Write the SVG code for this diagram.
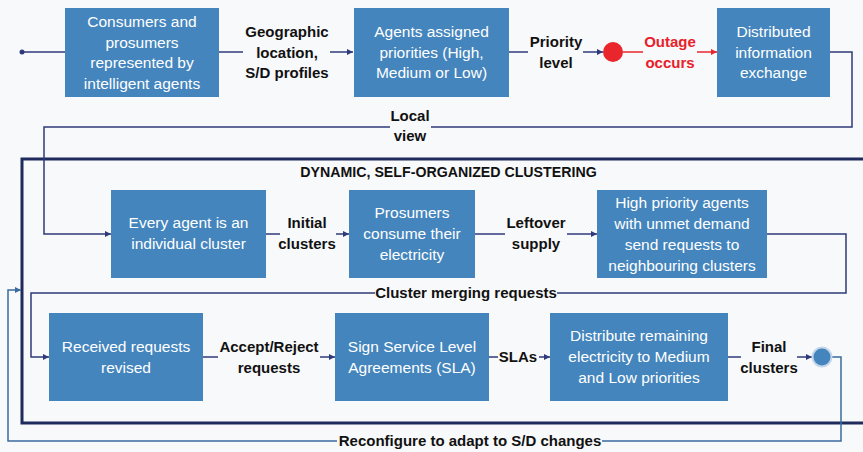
<svg xmlns="http://www.w3.org/2000/svg" width="863" height="452" viewBox="0 0 863 452">
<style>
.box{fill:#4485bd;}
.bt{font-family:"Liberation Sans",Arial,sans-serif;font-size:15.5px;fill:#ffffff;text-anchor:middle;}
.lb{font-family:"Liberation Sans",Arial,sans-serif;font-size:15px;font-weight:bold;fill:#111111;text-anchor:middle;}
.red{fill:#e8202a;}
.ln{fill:none;stroke:#2f3a7a;stroke-width:1.5;}
.rl{fill:none;stroke:#e8262b;stroke-width:1.5;}
.rc{fill:none;stroke:#3b6a9e;stroke-width:1.5;}
</style>
<defs>
<marker id="a" viewBox="0 0 8 8" refX="8" refY="4" markerWidth="6" markerHeight="6" markerUnits="userSpaceOnUse" orient="auto"><path d="M0,0 L8,4 L0,8 z" fill="#2f3a7a"/></marker>
<marker id="ar" viewBox="0 0 8 8" refX="8" refY="4" markerWidth="6" markerHeight="6" markerUnits="userSpaceOnUse" orient="auto"><path d="M0,0 L8,4 L0,8 z" fill="#e8262b"/></marker>
<marker id="ab" viewBox="0 0 8 8" refX="8" refY="4" markerWidth="6" markerHeight="6" markerUnits="userSpaceOnUse" orient="auto"><path d="M0,0 L8,4 L0,8 z" fill="#3b6a9e"/></marker>
</defs>
<rect x="0" y="0" width="863" height="452" fill="#f8f9fb"/>

<g id="cluster-frame">
<rect x="22" y="159" width="850" height="264" fill="none" stroke="#1f2b5c" stroke-width="3"/>
<text class="lb" x="448.5" y="177" style="font-size:14.2px">DYNAMIC, SELF-ORGANIZED CLUSTERING</text>
</g>

<g id="connectors">
<circle cx="22" cy="52" r="2.5" fill="#2f3a7a"/>
<path class="ln" d="M22,52 H65"/>
<path class="ln" d="M219,52 H243"/>
<path class="ln" d="M330,52 H353" marker-end="url(#a)"/>
<path class="ln" d="M509,52 H528"/>
<path class="ln" d="M583,52 H603" marker-end="url(#a)"/>
<path class="rl" d="M623,52 H643"/>
<path class="rl" d="M697,52 H717" marker-end="url(#ar)"/>
<path class="ln" d="M830,52 H852 V127 H431"/>
<path class="ln" d="M390,127 H44 V234 H111" marker-end="url(#a)"/>
<path class="ln" d="M266,234 H280"/>
<path class="ln" d="M336,234 H349" marker-end="url(#a)"/>
<path class="ln" d="M475,234 H505"/>
<path class="ln" d="M567,234 H597" marker-end="url(#a)"/>
<path class="ln" d="M767,234 H846 V293 H557"/>
<path class="ln" d="M375,293 H31 V357 H49" marker-end="url(#a)"/>
<path class="ln" d="M203,357 H218"/>
<path class="ln" d="M320,357 H335" marker-end="url(#a)"/>
<path class="ln" d="M489,357 H498"/>
<path class="ln" d="M539,357 H550" marker-end="url(#a)"/>
<path class="ln" d="M728,357 H741"/>
<path class="ln" d="M797,357 H812" marker-end="url(#a)"/>
<path class="rc" d="M832,357 H841 V441 H602"/>
<path class="rc" d="M337,441 H8 V290 H21" marker-end="url(#ab)"/>
</g>

<g id="labels">
<text class="lb" x="287" y="37">Geographic</text>
<text class="lb" x="287" y="58">location,</text>
<text class="lb" x="287" y="78">S/D profiles</text>
<text class="lb" x="556" y="47">Priority</text>
<text class="lb" x="556" y="68">level</text>
<text class="lb red" x="670" y="47">Outage</text>
<text class="lb red" x="670" y="68">occurs</text>
<text class="lb" x="410" y="121">Local</text>
<text class="lb" x="410" y="141">view</text>
<text class="lb" x="307" y="228">Initial</text>
<text class="lb" x="307" y="249">clusters</text>
<text class="lb" x="536" y="228">Leftover</text>
<text class="lb" x="536" y="249">supply</text>
<text class="lb" x="466" y="298">Cluster merging requests</text>
<text class="lb" x="269" y="352">Accept/Reject</text>
<text class="lb" x="269" y="373">requests</text>
<text class="lb" x="518" y="362">SLAs</text>
<text class="lb" x="769" y="352">Final</text>
<text class="lb" x="769" y="373">clusters</text>
<text class="lb" x="470" y="446">Reconfigure to adapt to S/D changes</text>
</g>

<g id="outage">
<circle cx="613" cy="52" r="10" fill="#e8262b"/>
</g>
<g id="end">
<circle cx="822" cy="357" r="9.5" fill="#4485bd" stroke="#c5d6ea" stroke-width="2"/>
</g>

<g id="n1">
<rect class="box" x="65" y="8" width="154" height="89"/>
<text class="bt" x="142" y="27">Consumers and</text>
<text class="bt" x="142" y="47.5">prosumers</text>
<text class="bt" x="142" y="68">represented by</text>
<text class="bt" x="142" y="88.5">intelligent agents</text>
</g>
<g id="n2">
<rect class="box" x="354" y="8" width="155" height="89"/>
<text class="bt" x="431.5" y="37">Agents assigned</text>
<text class="bt" x="431.5" y="57.5">priorities (High,</text>
<text class="bt" x="431.5" y="78">Medium or Low)</text>
</g>
<g id="n3">
<rect class="box" x="717" y="8" width="113" height="89"/>
<text class="bt" x="773.5" y="37">Distributed</text>
<text class="bt" x="773.5" y="57.5">information</text>
<text class="bt" x="773.5" y="78">exchange</text>
</g>
<g id="n4">
<rect class="box" x="111" y="190" width="155" height="88"/>
<text class="bt" x="188.5" y="228">Every agent is an</text>
<text class="bt" x="188.5" y="249">individual cluster</text>
</g>
<g id="n5">
<rect class="box" x="349" y="190" width="126" height="88"/>
<text class="bt" x="412" y="218">Prosumers</text>
<text class="bt" x="412" y="239">consume their</text>
<text class="bt" x="412" y="260">electricity</text>
</g>
<g id="n6">
<rect class="box" x="597" y="190" width="170" height="88"/>
<text class="bt" x="682" y="208">High priority agents</text>
<text class="bt" x="682" y="228.5">with unmet demand</text>
<text class="bt" x="682" y="249.5">send requests to</text>
<text class="bt" x="682" y="270.5">neighbouring clusters</text>
</g>
<g id="n7">
<rect class="box" x="49" y="313" width="154" height="88"/>
<text class="bt" x="126" y="352">Received requests</text>
<text class="bt" x="126" y="372.5">revised</text>
</g>
<g id="n8">
<rect class="box" x="335" y="313" width="154" height="88"/>
<text class="bt" x="412" y="352">Sign Service Level</text>
<text class="bt" x="412" y="372.5">Agreements (SLA)</text>
</g>
<g id="n9">
<rect class="box" x="550" y="313" width="178" height="88"/>
<text class="bt" x="639" y="341">Distribute remaining</text>
<text class="bt" x="639" y="362">electricity to Medium</text>
<text class="bt" x="639" y="383">and Low priorities</text>
</g>
</svg>
